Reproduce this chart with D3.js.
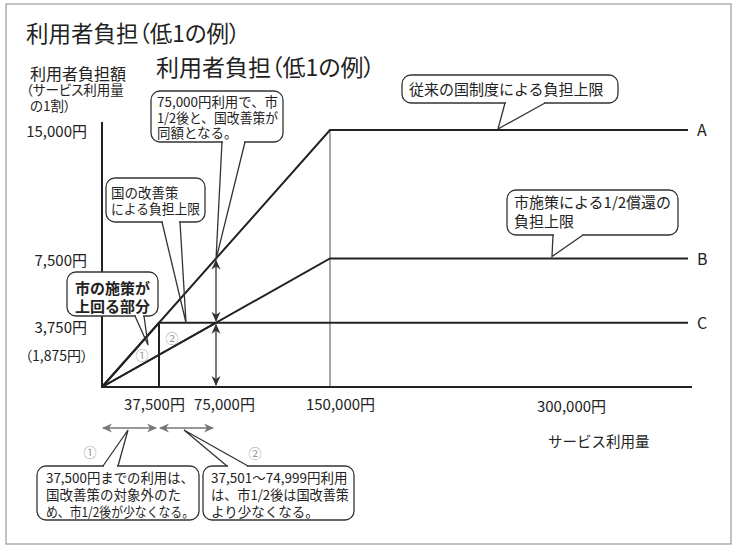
<!DOCTYPE html>
<html>
<head>
<meta charset="utf-8">
<script src="https://cdn.jsdelivr.net/npm/d3@7"></script>
<style>
    body { margin: 0; background: #fff; }
    svg text { font-family: "Noto Sans CJK JP", "Noto Sans", sans-serif; fill: #222; }
    .palt { font-feature-settings: "palt"; }
</style>
</head>
<body>
<svg id="chart" width="740" height="551"></svg>
<script>
// data
var usageTicks = [37500, 75000, 150000, 300000];
var usageLabels = ["37,500円", "75,000円", "150,000円", "300,000円"];
var burdenTicks = [15000, 7500, 3750];
var burdenLabels = ["15,000円", "7,500円", "3,750円"];
var halfBurden = 1875;
var seriesNames = ["A", "B", "C"];
var seriesKnee = [150000, 150000, 37500];   // usage where the cap is reached
var seriesCap = [15000, 7500, 3750];        // burden cap of each line
var matchUsage = 75000;                     // 1/2 line meets line C here

var svg = d3.select("#chart");

// frame
svg.append("rect").attr("x", 6).attr("y", 4).attr("width", 725).attr("height", 540)
    .attr("fill", "none").attr("stroke", "#999").attr("stroke-width", 1.2);

// scales (x axis is compressed after 150,000)
var x = d3.scaleLinear().domain([0, 150000, 300000]).range([102, 330, 571]);
var y = d3.scaleLinear().domain([0, 15000]).range([387, 130]);
var xEnd = x.invert(688);

var defs = svg.append("defs");
function addMarker(id, color) {
    defs.append("marker").attr("id", id).attr("viewBox", "0 0 10 10")
        .attr("refX", 9).attr("refY", 5).attr("markerWidth", 10).attr("markerHeight", 10)
        .attr("markerUnits", "userSpaceOnUse").attr("orient", "auto-start-reverse")
        .append("path").attr("d", "M0,0.5L10,5L0,9.5L3,5Z").attr("fill", color);
}
addMarker("arrDark", "#333");
addMarker("arrGray", "#777");

// titles
svg.append("text").attr("class", "palt").attr("x", 26).attr("y", 42)
    .style("font-size", "22.5px").text("利用者負担（低1の例）");
svg.append("text").attr("class", "palt").attr("x", 156).attr("y", 76)
    .style("font-size", "23px").text("利用者負担（低1の例）");

// y axis title
svg.append("text").attr("x", 30).attr("y", 80).style("font-size", "16px").text("利用者負担額");
svg.append("text").attr("class", "palt").attr("x", 26).attr("y", 95).style("font-size", "13.5px").text("（サービス利用量");
svg.append("text").attr("class", "palt").attr("x", 30).attr("y", 111).style("font-size", "13.5px").text("の1割）");

// thin guide at 150,000
svg.append("line").attr("x1", x(150000)).attr("x2", x(150000)).attr("y1", y(15000)).attr("y2", y(0))
    .attr("stroke", "#555").attr("stroke-width", 1);

// lines A, B, C
var line = d3.line().x(function (d) { return x(d[0]); }).y(function (d) { return y(d[1]); });
seriesNames.forEach(function (name, i) {
    var pts = [[0, 0], [seriesKnee[i], seriesCap[i]], [xEnd, seriesCap[i]]];
    svg.append("path").attr("d", line(pts)).attr("fill", "none")
        .attr("stroke", "#222").attr("stroke-width", 2);
    svg.append("text").attr("x", x(xEnd) + 9).attr("y", y(seriesCap[i]) + 6)
        .style("font-size", "16px").text(name);
});
// the 1/2 line (市1/2後) below A
svg.append("path").attr("d", line([[0, 0], [matchUsage, seriesCap[2]]])).attr("fill", "none")
    .attr("stroke", "#222").attr("stroke-width", 2);
// vertical edge of C at 37,500
svg.append("path").attr("d", line([[seriesKnee[2], 0], [seriesKnee[2], seriesCap[2]]]))
    .attr("fill", "none").attr("stroke", "#222").attr("stroke-width", 2);

// axes lines
svg.append("line").attr("x1", x(0)).attr("x2", x(0)).attr("y1", 122).attr("y2", y(0) + 1)
    .attr("stroke", "#222").attr("stroke-width", 2);
svg.append("line").attr("x1", x(0)).attr("x2", 692).attr("y1", y(0)).attr("y2", y(0))
    .attr("stroke", "#222").attr("stroke-width", 2);

// x tick labels
var xNudge = {37500: -5, 75000: 8, 150000: 10, 300000: 0};
var xAxis = svg.append("g").attr("transform", "translate(0," + y(0) + ")")
    .call(d3.axisBottom(x).tickValues(usageTicks).tickSize(0).tickPadding(12)
        .tickFormat(function (d, i) { return usageLabels[i]; }));
xAxis.select(".domain").remove();
xAxis.selectAll("text").style("font-size", "15px").attr("fill", "#222")
    .attr("dx", function (d) { return xNudge[d]; })
    .attr("dy", function (d) { return d == 300000 ? "0.85em" : "0.71em"; });
svg.append("text").attr("x", 548).attr("y", 447).style("font-size", "14.5px").text("サービス利用量");

// y tick labels
var yNudge = {15000: 2, 7500: 2, 3750: 5};
var yAxis = svg.append("g").attr("transform", "translate(" + x(0) + ",0)")
    .call(d3.axisLeft(y).tickValues(burdenTicks).tickSize(0).tickPadding(15)
        .tickFormat(function (d, i) { return burdenLabels[i]; }));
yAxis.select(".domain").remove();
yAxis.selectAll("text").style("font-size", "15px").attr("fill", "#222")
    .attr("y", function (d) { return yNudge[d]; });
svg.append("text").attr("class", "palt").attr("x", 88).attr("y", y(halfBurden) + 6)
    .attr("text-anchor", "end").style("font-size", "14px").text("（1,875円）");

// vertical double arrows at 75,000
[[seriesCap[1], seriesCap[2]], [seriesCap[2], 0]].forEach(function (r) {
    svg.append("line").attr("x1", x(matchUsage)).attr("x2", x(matchUsage))
        .attr("y1", y(r[0]) + 2).attr("y2", y(r[1]) - 2)
        .attr("stroke", "#333").attr("stroke-width", 1.3)
        .attr("marker-start", "url(#arrDark)").attr("marker-end", "url(#arrDark)");
});

// horizontal ranges under the axis
[[0, seriesKnee[2]], [seriesKnee[2], matchUsage]].forEach(function (r) {
    svg.append("line").attr("x1", x(r[0]) + 1).attr("x2", x(r[1]) - 3)
        .attr("y1", 428).attr("y2", 428)
        .attr("stroke", "#777").attr("stroke-width", 1.3)
        .attr("marker-start", "url(#arrGray)").attr("marker-end", "url(#arrGray)");
});

// circled numbers
[["①", 142, 360], ["②", 172, 343], ["①", 90, 457], ["②", 255, 458]].forEach(function (c) {
    svg.append("text").attr("x", c[1]).attr("y", c[2]).attr("text-anchor", "middle")
        .style("font-size", "13px").style("fill", "#999").text(c[0]);
});

// callouts
var callouts = [
    {lines: ["75,000円利用で、市", "1/2後と、国改善策が", "同額となる。"], box: [151, 91, 132, 51],
        base: [222, 245], tip: [x(matchUsage), y(seriesCap[1]) + 1], size: 13.5, lh: 15.5, tx: 157, ty: 107},
    {lines: ["国の改善策", "による負担上限"], box: [106, 178, 99, 44],
        base: [162, 180], tip: [186, y(seriesCap[2])], size: 13.5, lh: 16, tx: 111, ty: 198},
    {lines: ["市の施策が", "上回る部分"], box: [67, 272, 91, 44],
        base: [135, 144], tip: [148, 345], size: 15, lh: 18, tx: 75, ty: 294, bold: true},
    {lines: ["従来の国制度による負担上限"], box: [402, 75, 216, 28],
        base: [505, 545], tip: [498, y(seriesCap[0]) - 1], size: 15, lh: 18, tx: 409, ty: 95},
    {lines: ["市施策による1/2償還の", "負担上限"], box: [507, 190, 171, 45],
        base: [553, 583], tip: [552, y(seriesCap[1]) - 2], size: 15, lh: 19, tx: 514, ty: 208},
    {lines: ["37,500円までの利用は、", "国改善策の対象外のた", "め、市1/2後が少なくなる。"], box: [37, 466, 162, 54],
        base: [103, 118], tip: [128, 430], up: true, size: 13.5, lh: 17, tx: 46, ty: 483},
    {lines: ["37,501～74,999円利用", "は、市1/2後は国改善策", "より少なくなる。"], box: [203, 466, 151, 54],
        base: [227, 248], tip: [184, 430], up: true, size: 13.5, lh: 17, tx: 211, ty: 483}
];

callouts.forEach(function (c) {
    var g = svg.append("g");
    g.append("rect").attr("x", c.box[0]).attr("y", c.box[1])
        .attr("width", c.box[2]).attr("height", c.box[3]).attr("rx", 9)
        .attr("fill", "#fff").attr("stroke", "#333").attr("stroke-width", 1.3);
    var by = c.up ? c.box[1] : c.box[1] + c.box[3];
    g.append("line").attr("x1", c.base[0] + 1).attr("x2", c.base[1] - 1)
        .attr("y1", by).attr("y2", by).attr("stroke", "#fff").attr("stroke-width", 3);
    g.append("path")
        .attr("d", "M" + c.base[0] + "," + by + "L" + c.tip[0] + "," + c.tip[1] + "L" + c.base[1] + "," + by)
        .attr("fill", "none").attr("stroke", "#333").attr("stroke-width", 1.3);
    var maxW = c.box[0] + c.box[2] - c.tx - 5;
    c.lines.forEach(function (t, i) {
        var txt = g.append("text").attr("x", c.tx).attr("y", c.ty + i * c.lh)
            .style("font-size", c.size + "px").style("font-weight", c.bold ? "bold" : "normal")
            .text(t);
        // squeeze a line that would run past the box edge
        if (txt.node().getComputedTextLength() > maxW)
            txt.attr("textLength", maxW).attr("lengthAdjust", "spacingAndGlyphs");
    });
});
</script>
</body>
</html>
